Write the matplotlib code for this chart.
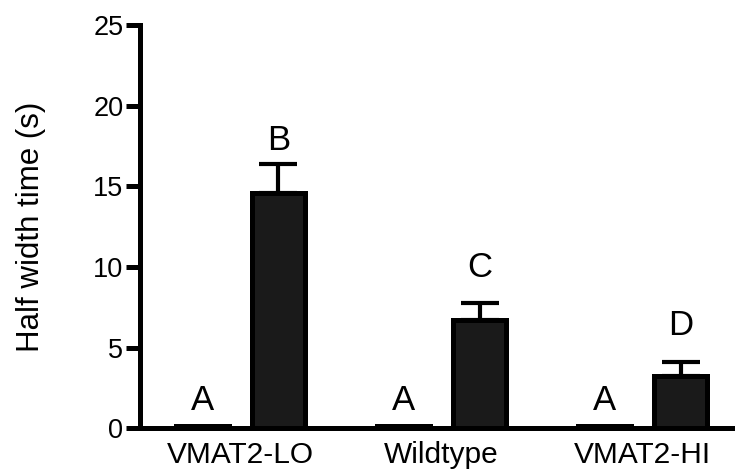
import matplotlib
matplotlib.use("Agg")
import matplotlib.pyplot as plt
import numpy as np

plt.rcParams['font.family'] = ['Liberation Sans', 'DejaVu Sans']

groups = ["VMAT2-LO", "Wildtype", "VMAT2-HI"]
baseline_vals = [0.15, 0.15, 0.15]
stim_vals = [14.6, 6.7, 3.25]
stim_sem = [1.8, 1.1, 0.9]
letters_base = ["A", "A", "A"]
letters_stim = ["B", "C", "D"]
letter_y_base = [1.15, 1.15, 1.15]
letter_y_stim = [17.25, 9.4, 5.8]

fig = plt.figure(figsize=(7.35, 4.75), dpi=100)
ax = fig.add_axes([0.1905, 0.098, 0.8095, 0.849])

x = np.arange(len(groups))
off = 0.189
w = 0.264
lw = 3.6

ax.bar(x - off, baseline_vals, width=w, color="#1a1a1a", edgecolor="black",
       linewidth=lw, zorder=3)
ax.bar(x + off, stim_vals, width=w, color="#1a1a1a", edgecolor="black",
       linewidth=lw, zorder=3)
ax.errorbar(x + off, stim_vals, yerr=[np.zeros(len(stim_sem)), stim_sem],
            fmt="none", ecolor="black", elinewidth=3, capsize=14,
            capthick=3, zorder=2)

for xi, t, yy in zip(x - off, letters_base, letter_y_base):
    ax.text(xi, yy, t, ha="center", va="baseline", fontsize=25)
for xi, t, yy in zip(x + off, letters_stim, letter_y_stim):
    ax.text(xi, yy, t, ha="center", va="baseline", fontsize=25)

ax.set_xlim(-0.4975, 2.458)
ax.set_ylim(0, 25)
ax.set_yticks([0, 5, 10, 15, 20, 25])
ax.set_xticks(x)
ax.set_xticklabels(groups, fontsize=21.5)
ax.tick_params(axis="x", length=0, pad=9)
ax.tick_params(axis="y", length=10, width=3.6, labelsize=19.5, pad=2)

for s in ["top", "right"]:
    ax.spines[s].set_visible(False)
for s in ["left", "bottom"]:
    ax.spines[s].set_linewidth(3.6)
    ax.spines[s].set_capstyle("projecting")

ax.set_ylabel("Half width time (s)", fontsize=22.5)
ax.yaxis.set_label_coords(-0.158, 0.5)

fig.savefig("out.png", dpi=100)
